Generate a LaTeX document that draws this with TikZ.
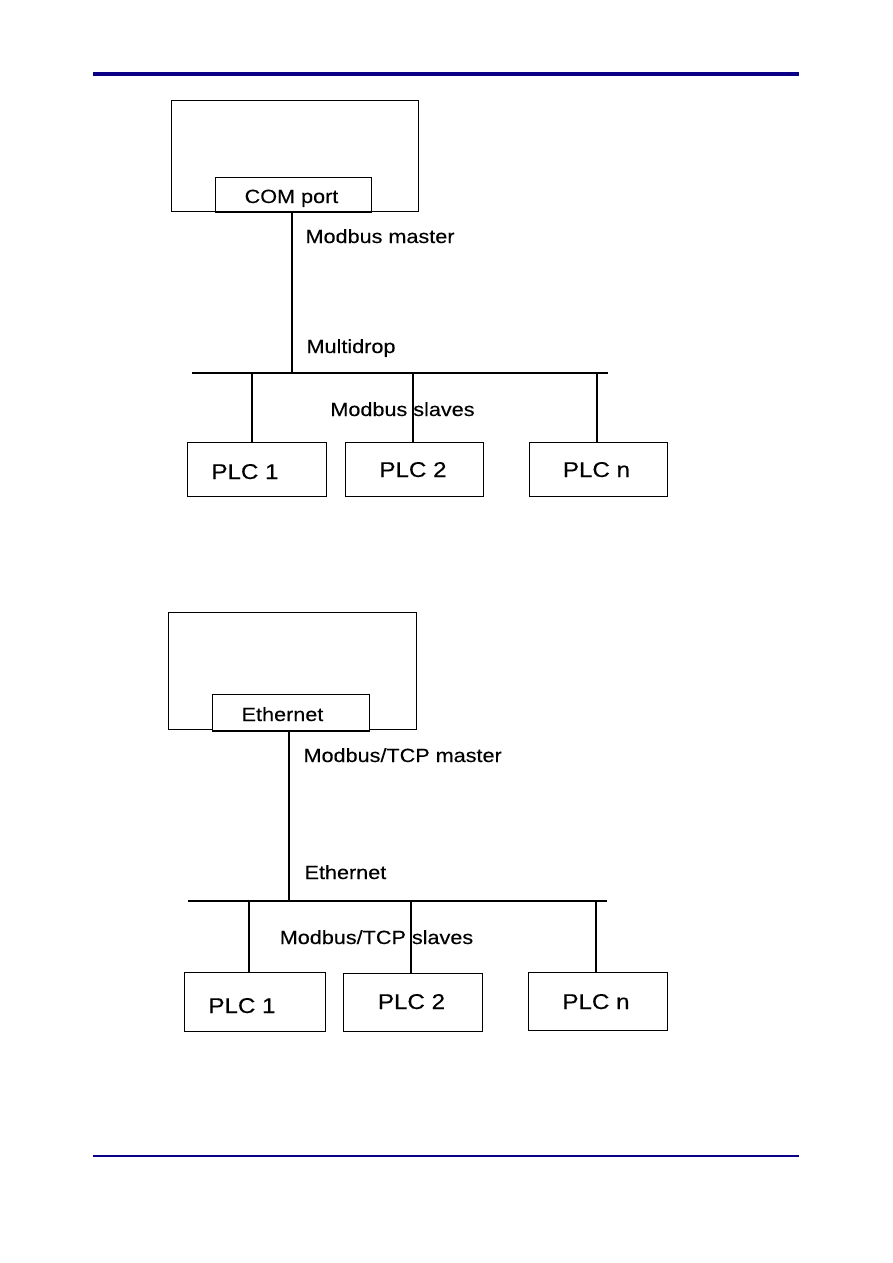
\documentclass[tikz,border=0pt]{standalone}
\usepackage{fontspec}
\setmainfont{Liberation Sans}[FakeStretch=1.13,FakeBold=0.3]
\usetikzlibrary{positioning}
\definecolor{navyrule}{RGB}{10,0,135}
\newcommand{\px}{0.6666pt}

\begin{document}
\begin{tikzpicture}[x=0.0235162cm, y=-0.0235162cm, line width=0.75pt]
\tikzstyle{box} = [rectangle, draw, fill=white, inner sep=0pt]
\tikzstyle{lbl} = [inner sep=0pt, anchor=base west, font=\fontsize{12.8}{14}\selectfont]
\tikzstyle{boxtxt} = [inner sep=0pt, anchor=base, font=\fontsize{12.8}{14}\selectfont]
\tikzstyle{plctxt} = [inner sep=0pt, anchor=base, font=\fontsize{14.3}{16}\selectfont]
\useasboundingbox (0,0) rectangle (893,1263);

% page rules
\coordinate (headL) at (93,74); \coordinate (headR) at (799,74);
\coordinate (footL) at (93,1156); \coordinate (footR) at (799,1156);
\draw[navyrule, line width=3.5*\px] (headL)--(headR);
\draw[navyrule, line width=1.2*\px] (footL)--(footR);

% serial multidrop
\node (host1) [box, minimum width=248*\px, minimum height=112*\px] at (295,156) {};
\node (com) [box, minimum width=157*\px, minimum height=35*\px] at (293.5,194.5) {};
\node (comtxt) [boxtxt] at (291.5,203) {COM port};
\coordinate (bus1L) at (192,373); \coordinate (bus1R) at (608,373);
\coordinate (tap11) at (252,373); \coordinate (tap12) at (413,373); \coordinate (tap1n) at (597,373);
\node (plc11) [box, minimum width=140*\px, minimum height=55*\px] at (257,469.5) {};
\node (plc12) [box, minimum width=139*\px, minimum height=55*\px] at (414.5,469.5) {};
\node (plc1n) [box, minimum width=139*\px, minimum height=55*\px] at (598.5,469.5) {};
\node (plc11txt) [plctxt] at (245,479) {PLC 1};
\node (plc12txt) [plctxt] at (413,477) {PLC 2};
\node (plc1ntxt) [plctxt] at (596.5,477) {PLC n};
\draw ([xshift=-1.5*\px]com.south)--([xshift=-1.5*\px]com.south |- bus1L);
\draw (bus1L)--(bus1R);
\draw (tap11)--(tap11 |- plc11.north);
\draw (tap12)--(tap12 |- plc12.north);
\draw (tap1n)--(tap1n |- plc1n.north);
\node (master1) [lbl] at (305,243) {Modbus master};
\node (drop1) [lbl] at (306,353) {Multidrop};
\node (slaves1) [boxtxt] at (402.5,416) {Modbus slaves};

% ethernet
\node (host2) [box, minimum width=249*\px, minimum height=118*\px] at (292.5,671) {};
\node (eth) [box, minimum width=158*\px, minimum height=37*\px] at (291,712.5) {};
\node (ethtxt) [boxtxt] at (282.5,721) {Ethernet};
\coordinate (bus2L) at (188,901); \coordinate (bus2R) at (607,901);
\coordinate (tap21) at (249,901); \coordinate (tap22) at (411,901); \coordinate (tap2n) at (596,901);
\node (plc21) [box, minimum width=142*\px, minimum height=60*\px] at (255,1002) {};
\node (plc22) [box, minimum width=140*\px, minimum height=59*\px] at (413,1002.5) {};
\node (plc2n) [box, minimum width=140*\px, minimum height=59*\px] at (598,1001.5) {};
\node (plc21txt) [plctxt] at (242,1013) {PLC 1};
\node (plc22txt) [plctxt] at (411.5,1009) {PLC 2};
\node (plc2ntxt) [plctxt] at (596,1009) {PLC n};
\draw ([xshift=-2*\px]eth.south)--([xshift=-2*\px]eth.south |- bus2L);
\draw (bus2L)--(bus2R);
\draw (tap21)--(tap21 |- plc21.north);
\draw (tap22)--(tap22 |- plc22.north);
\draw (tap2n)--(tap2n |- plc2n.north);
\node (master2) [lbl] at (303,762) {Modbus/TCP master};
\node (drop2) [lbl] at (304,879) {Ethernet};
\node (slaves2) [boxtxt] at (376.5,944) {Modbus/TCP slaves};
\end{tikzpicture}
\end{document}
